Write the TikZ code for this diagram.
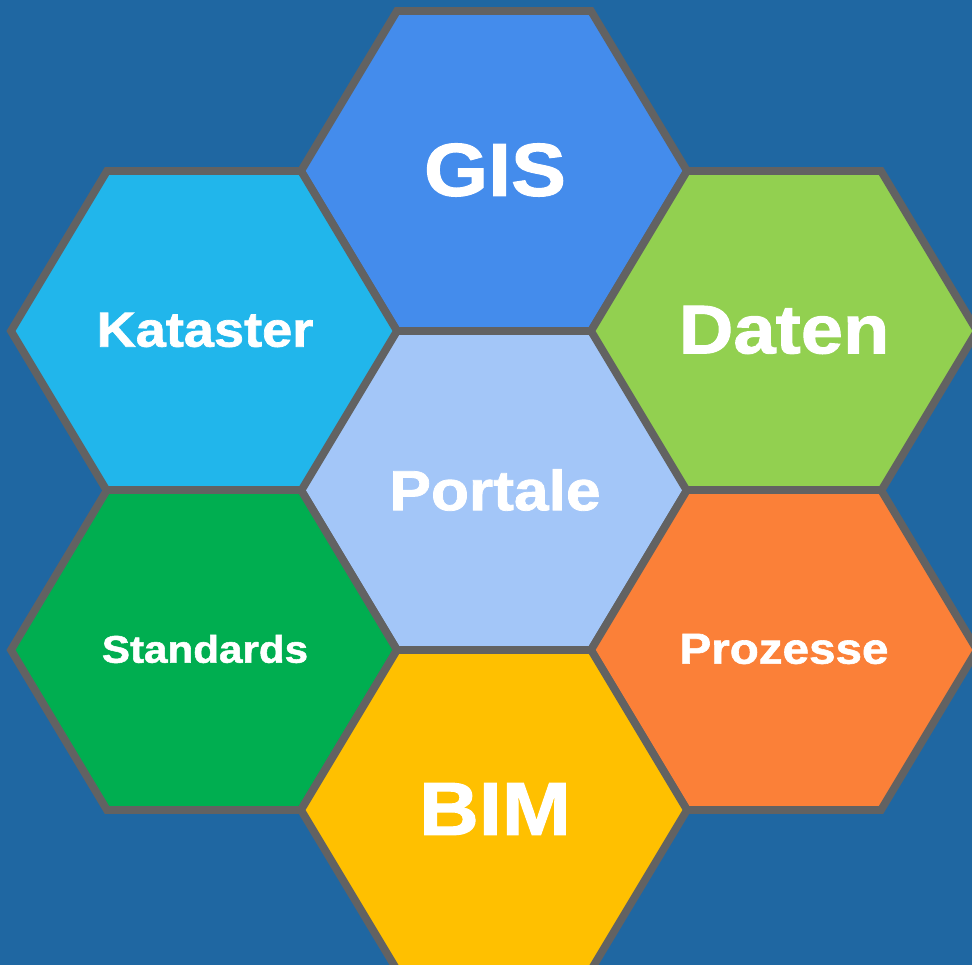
\documentclass[tikz,border=0pt]{standalone}
\usepackage{fontspec}
\newfontfamily\hexfont[FakeStretch=1.1,FakeBold=1.4]{Liberation Sans}
\usepackage{tikz}
\definecolor{bgblue}{HTML}{1F67A2}
\definecolor{hexgray}{HTML}{626262}
\definecolor{gisblue}{HTML}{448CEC}
\definecolor{katblue}{HTML}{21B6EB}
\definecolor{datgreen}{HTML}{92D050}
\definecolor{portblue}{HTML}{A3C6F8}
\definecolor{stdgreen}{HTML}{00AE50}
\definecolor{prozorange}{HTML}{FB8038}
\definecolor{bimyellow}{HTML}{FFC000}

\begin{document}
\begin{tikzpicture}[x=0.01cm,y=-0.01cm]
    \tikzset{HX/.style={draw=hexgray,line width=2.2pt,line join=miter}}
    \tikzset{HL/.style={text=white,inner sep=0mm,font=\hexfont\bfseries\fontsize{#1}{#1}\selectfont}}

    \useasboundingbox (0,0) rectangle (972,965);
    \clip (0,0) rectangle (972,965);
    \fill[bgblue] (0,0) rectangle (972,965);

    % honeycomb
    \foreach \cx/\cy/\col in {494/490/portblue, 494/171/gisblue, 204/331/katblue,
                              784/331/datgreen, 204/650/stdgreen, 784/650/prozorange,
                              494/810/bimyellow}
        \path[HX, fill=\col, shift={(\cx,\cy)}]
            (-97,-160) -- (97,-160) -- (193,0) -- (97,160) -- (-97,160) -- (-193,0) -- cycle;

    \node (gis) [HL=21.3] at (495,170) {GIS};
    	\node (kataster) [HL=14] at (205,330) {Kataster};
    	\node (daten) [HL=19.6] at (784,330) {Daten};
    		\node (portale) [HL=16.1] at (495,490) {Portale};
    	\node (standards) [HL=10.9] at (205,649) {Standards};
    	\node (prozesse) [HL=12.3] at (784,649) {Prozesse};
    \node (bim) [HL=21.4] at (495,809) {BIM};
\end{tikzpicture}
\end{document}
